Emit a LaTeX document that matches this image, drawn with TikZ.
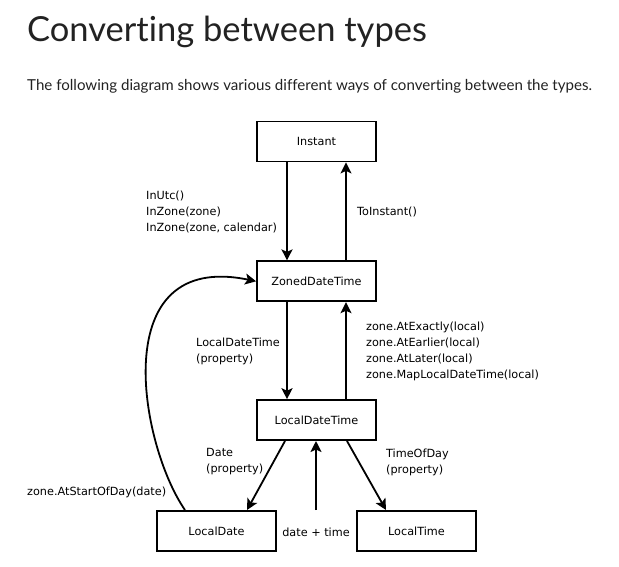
\documentclass[tikz,border=0pt]{standalone}
\usepackage{fontspec}
\usepackage{xcolor}
\usepackage{tikz}
\usetikzlibrary{arrows.meta,positioning,calc}
\newfontfamily\headfont{Lato}[Ligatures=NoCommon]
\newfontfamily\diagfont{DejaVu Sans}
\definecolor{ink}{HTML}{222222}

\begin{document}
\begin{tikzpicture}[
  x=1pt, y=-1pt,
  font=\diagfont\fontsize{11.25}{16}\selectfont,
  node distance=4mm and 6mm,
  typebox/.style={draw=black, line width=1.8pt, minimum width=119pt,
    minimum height=40pt, align=center, fill=white},
  lbl/.style={align=left, inner sep=0pt, anchor=west},
  flowline/.style={-{Stealth[length=11pt, width=11pt, inset=2.5pt]},
    line width=1.8pt, draw=black},
]
  \useasboundingbox (0,0) rectangle (619,566);

  % heading
  \node[anchor=base west, inner sep=0pt, text=ink,
    font=\headfont\fontsize{34.5}{40}\selectfont] (title) at (27,41.7)
    {Converting between types};
  \node[anchor=base west, inner sep=0pt, text=ink,
    font=\headfont\fontsize{15.1}{18}\selectfont] (intro) at (27,90)
    {The following diagram shows various different ways of converting between the types.};

  % types
  \node[typebox] (instant) at (316.5,141.5) {Instant};
  \node[typebox, below=98pt of instant] (zdt) {ZonedDateTime};
  \node[typebox, below=97pt of zdt] (ldt) {LocalDateTime};
  \node[typebox, below=69pt of ldt, xshift=-100pt] (ld) {LocalDate};
  \node[typebox, below=69pt of ldt, xshift=100pt] (lt) {LocalTime};
  \node (dt) at (316,532) {date + time};

  % conversions
  \draw[flowline] ([xshift=-29.5pt]instant.south) -- ([xshift=-29.5pt]zdt.north);
  \draw[flowline] ([xshift=29.5pt]zdt.north) -- ([xshift=29.5pt]instant.south);
  \draw[flowline] ([xshift=-29.5pt]zdt.south) -- ([xshift=-29.5pt]ldt.north);
  \draw[flowline] ([xshift=29.5pt]ldt.north) -- ([xshift=29.5pt]zdt.south);
  \draw[flowline] ([xshift=-31.5pt]ldt.south) -- ([xshift=30.5pt]ld.north);
  \draw[flowline] ([xshift=30.5pt]ldt.south) -- ([xshift=-30.5pt]lt.north);
  \draw[flowline] (dt.north |- ld.north) -- (dt.north |- ldt.south);
  \draw[flowline] ([xshift=-31.5pt]ld.north) .. controls (140,445) and (105,250) .. (zdt.west);

  % labels
  \node[lbl] (inzone) at (146,211.5) {InUtc()\\InZone(zone)\\InZone(zone, calendar)};
  \node[lbl] (toinst) at (357,211.5) {ToInstant()};
  \node[lbl] (ldtprop) at (196,351.5) {LocalDateTime\\(property)};
  \node[lbl] (atzone) at (366,351.5) {zone.AtExactly(local)\\zone.AtEarlier(local)\\zone.AtLater(local)\\zone.MapLocalDateTime(local)};
  \node[lbl] (dateprop) at (206,462) {Date\\(property)};
  \node[lbl] (timeprop) at (386,462) {TimeOfDay\\(property)};
  \node[lbl] (startday) at (27,492) {zone.AtStartOfDay(date)};
\end{tikzpicture}
\end{document}
